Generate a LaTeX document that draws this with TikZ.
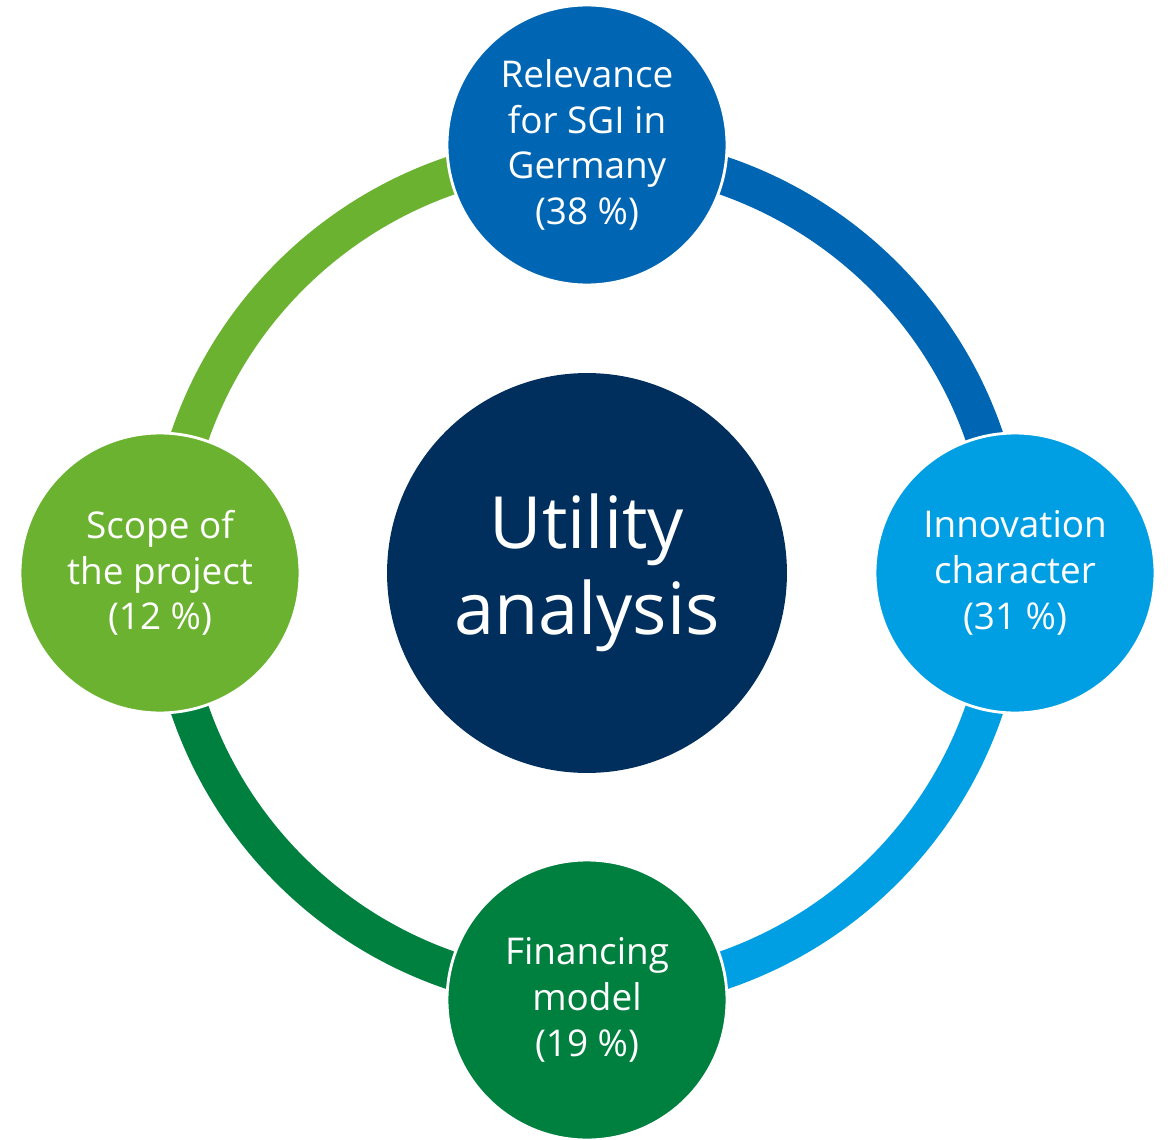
\documentclass[tikz,border=0pt]{standalone}
\usepackage{fontspec}
\setmainfont{Open Sans}
\usetikzlibrary{positioning}

\definecolor{navy}{HTML}{002E5D}
\definecolor{relblue}{HTML}{0066B3}
\definecolor{innoblue}{HTML}{009FE3}
\definecolor{fingreen}{HTML}{00803F}
\definecolor{scopegreen}{HTML}{6AB22F}

\begin{document}
\begin{tikzpicture}[
    x=0.02cm, y=0.02cm,
    crit/.style={circle, draw=white, line width=1.6pt, minimum size=5.6cm, inner sep=0pt, align=center, text=white, font=\fontsize{21}{26}\selectfont},
    core/.style={circle, fill=navy, minimum size=8cm, inner sep=0pt, align=center, text=white, font=\fontsize{41}{49}\selectfont},
    band/.style={line width=0.76cm}
]
\useasboundingbox (-587,-566) rectangle (581,573);

% Nodes
\node[core] (util) at (0,0) {Utility\\analysis};

% Ring
\draw[band, relblue] (util.center) ++(90:420) arc[start angle=90, end angle=0, radius=420];
\draw[band, innoblue] (util.center) ++(0:420) arc[start angle=0, end angle=-90, radius=420];
\draw[band, fingreen] (util.center) ++(-90:420) arc[start angle=-90, end angle=-180, radius=420];
\draw[band, scopegreen] (util.center) ++(180:420) arc[start angle=180, end angle=90, radius=420];

\node[crit, fill=relblue] (rel) at (0,428) {Relevance\\for SGI in\\Germany\\(38 \%)};
\node[crit, fill=innoblue] (inno) at (428,0) {Innovation\\character\\(31 \%)};
\node[crit, fill=fingreen] (fin) at (0,-427) {Financing\\model\\(19 \%)};
\node[crit, fill=scopegreen] (scope) at (-427,0) {Scope of\\the project\\(12 \%)};

\end{tikzpicture}
\end{document}
